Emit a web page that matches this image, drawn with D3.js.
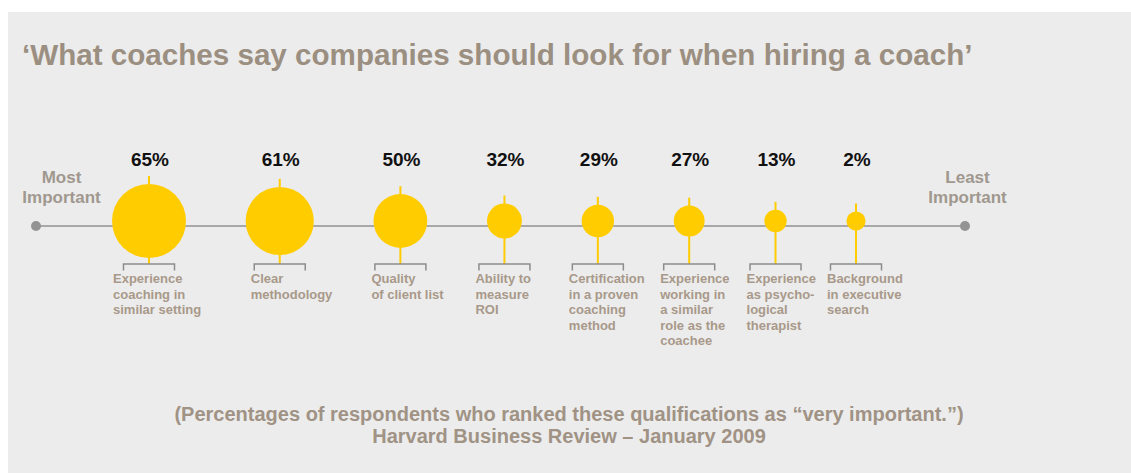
<!DOCTYPE html>
<html>
<head>
<meta charset="utf-8">
<script src="https://cdn.jsdelivr.net/npm/d3@7"></script>
<style>
  body { margin: 0; background: #fff; }
  svg { display: block; font-family: "Liberation Sans", Arial, sans-serif; }
</style>
</head>
<body>
<svg id="chart" width="1131" height="473"></svg>
<script>
const categories = [
  ['Experience', 'coaching in', 'similar setting'],
  ['Clear', 'methodology'],
  ['Quality', 'of client list'],
  ['Ability to', 'measure', 'ROI'],
  ['Certification', 'in a proven', 'coaching', 'method'],
  ['Experience', 'working in', 'a similar', 'role as the', 'coachee'],
  ['Experience', 'as psycho-', 'logical', 'therapist'],
  ['Background', 'in executive', 'search']
]
const values = [65, 61, 50, 32, 29, 27, 13, 2]
const endLabels = [['Most', 'Important'], ['Least', 'Important']]
const title = '\u2018What coaches say companies should look for when hiring a coach\u2019'
const notes = [
  '(Percentages of respondents who ranked these qualifications as \u201cvery important.\u201d)',
  'Harvard Business Review \u2013 January 2009'
]

const width = 1131
const height = 473
const axisY = 226
const circleY = 221
const bracketY = 264

const svg = d3.select('#chart')

svg.append('rect')
  .attr('x', 8)
  .attr('y', 12)
  .attr('width', width - 8)
  .attr('height', height - 12)
  .attr('fill', '#ececec')

svg.append('text')
  .attr('x', 22)
  .attr('y', 65)
  .attr('font-size', 29.6)
  .attr('font-weight', 'bold')
  .attr('fill', '#9b8f81')
  .text(title)

// circle size from the share of respondents
const rScale = d3.scalePow()
  .exponent(1.75)
  .domain([0, 65])
  .range([9.5, 37])

// circles are packed along the line with an even gap between their edges
const gap = 60
const offsets = []
values.forEach((v, i) => {
  if (i === 0) { offsets.push(0); return }
  offsets.push(offsets[i - 1] + rScale(values[i - 1]) + gap + rScale(v))
})
const xScale = d3.scaleLinear()
  .domain([0, offsets[offsets.length - 1]])
  .range([149, 856])

const data = values.map((v, i) => ({value: v, lines: categories[i], x: xScale(offsets[i]), r: rScale(v)}))

// the scale line with its end dots
svg.append('line')
  .attr('x1', 36)
  .attr('x2', 965)
  .attr('y1', axisY)
  .attr('y2', axisY)
  .attr('stroke', '#a8a8a8')
  .attr('stroke-width', 2)

svg.selectAll('.end-dot')
  .data([36, 965])
  .enter()
  .append('circle')
  .attr('class', 'end-dot')
  .attr('cx', d => d)
  .attr('cy', axisY)
  .attr('r', 5)
  .attr('fill', '#939393')

const ends = svg.selectAll('.end-label')
  .data(endLabels)
  .enter()
  .append('text')
  .attr('class', 'end-label')
  .attr('text-anchor', 'middle')
  .attr('font-size', 17)
  .attr('font-weight', 'bold')
  .attr('fill', '#a0988f')
  .attr('transform', (d, i) => 'translate(' + (i === 0 ? 61.5 : 967.5) + ',183)')

ends.selectAll('tspan')
  .data(d => d)
  .enter()
  .append('tspan')
  .attr('x', 0)
  .attr('dy', (d, i) => i === 0 ? 0 : 20)
  .text(d => d)

const item = svg.selectAll('.item')
  .data(data)
  .enter()
  .append('g')
  .attr('class', 'item')

item.append('line')
  .attr('x1', d => d.x)
  .attr('x2', d => d.x)
  .attr('y1', d => circleY - d.r - 8)
  .attr('y2', bracketY)
  .attr('stroke', '#ffcc00')
  .attr('stroke-width', 2)

item.append('circle')
  .attr('cx', d => d.x)
  .attr('cy', circleY)
  .attr('r', d => d.r)
  .attr('fill', '#ffcc00')

item.append('path')
  .attr('d', d => 'M' + (d.x - 25.5) + ',' + (bracketY + 6.5) + 'V' + bracketY + 'H' + (d.x + 25.5) + 'V' + (bracketY + 6.5))
  .attr('fill', 'none')
  .attr('stroke', '#8c8c8c')
  .attr('stroke-width', 1.5)

item.append('text')
  .attr('x', d => d.x + 1)
  .attr('y', 166)
  .attr('text-anchor', 'middle')
  .attr('font-size', 19)
  .attr('font-weight', 'bold')
  .attr('fill', '#111')
  .text(d => d.value + '%')

const label = item.append('text')
  .attr('transform', (d, i) => 'translate(' + (d.x - (i === 0 ? 36 : 29)) + ',283)')
  .attr('font-size', 13)
  .attr('font-weight', 'bold')
  .attr('fill', '#a8998a')

label.selectAll('tspan')
  .data(d => d.lines)
  .enter()
  .append('tspan')
  .attr('x', 0)
  .attr('dy', (d, i) => i === 0 ? 0 : 15.5)
  .text(d => d)

svg.selectAll('.note')
  .data(notes)
  .enter()
  .append('text')
  .attr('class', 'note')
  .attr('x', 569)
  .attr('y', (d, i) => 421 + i * 22)
  .attr('text-anchor', 'middle')
  .attr('font-size', 20)
  .attr('font-weight', 'bold')
  .attr('fill', '#a09385')
  .text(d => d)
</script>
</body>
</html>
